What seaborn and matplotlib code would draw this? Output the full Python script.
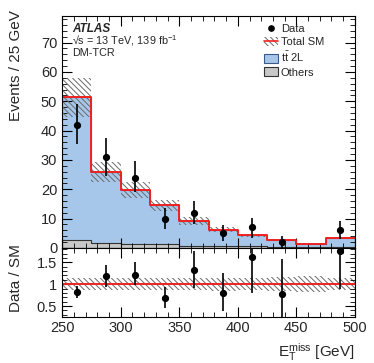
import numpy as np
import matplotlib
matplotlib.use("Agg")
import matplotlib.pyplot as plt
import seaborn as sns
import pandas as pd
from matplotlib.ticker import MultipleLocator
from matplotlib.patches import Patch
from matplotlib.lines import Line2D

# bins of E_T^miss [GeV]
edges = [250, 275, 300, 325, 350, 375, 400, 425, 450, 475, 500]
centers = np.array(edges[:-1]) + 12.5

data = np.array([42, 31, 24, 10, 12, 5, 7, 2, np.nan, 6])
err_up = np.array([7.0, 6.4, 5.8, 3.7, 4.1, 2.8, 3.3, 2.1, np.nan, 3.1])
err_dn = np.array([6.5, 6.6, 4.8, 3.4, 3.7, 2.6, 3.6, 1.9, np.nan, 3.0])

# backgrounds
ttbar = np.array([48.7, 24.3, 18.4, 13.2, 8.5, 5.6, 3.7, 2.3, 1.1, 3.1])
others = np.array([2.6, 1.7, 1.3, 1.3, 0.6, 0.6, 0.6, 0.3, 0.3, 0.3])
sm_unc = np.array([6.8, 3.4, 2.7, 2.0, 1.3, 0.9, 0.6, 0.4, 0.25, 0.45])

total = ttbar + others

sns.set_theme(style="ticks")
plt.rcParams["font.family"] = ["Liberation Sans", "DejaVu Sans"]
plt.rcParams["mathtext.fontset"] = "custom"
plt.rcParams["mathtext.rm"] = "Liberation Sans"
plt.rcParams["mathtext.it"] = "Liberation Sans:italic"
plt.rcParams["mathtext.bf"] = "Liberation Sans:bold"
plt.rcParams["hatch.linewidth"] = 0.7

blue = "#a6c7ea"
grey = "#c8c8c8"
hatch_col = "#6a6a6a"
hatch = "\\" * 6

fig = plt.figure(figsize=(3.74, 3.63), dpi=100)
ax = fig.add_axes([0.166, 0.317, 0.783, 0.640])
ax2 = fig.add_axes([0.166, 0.128, 0.783, 0.189], sharex=ax)

df = pd.DataFrame({"met": centers, "total": total, "others": others})

# stacked backgrounds: total (blue) then others drawn over it
sns.histplot(data=df, x="met", weights="total", bins=edges, element="step",
             fill=True, color=blue, alpha=1, edgecolor="#3a5a8a", linewidth=0.8, ax=ax)
sns.histplot(data=df, x="met", weights="others", bins=edges, element="step",
             fill=True, color=grey, alpha=1, edgecolor="#333333", linewidth=0.8, ax=ax)

# uncertainty band
ax.bar(centers, 2 * sm_unc, bottom=total - sm_unc, width=25, fill=False,
       hatch=hatch, edgecolor=hatch_col, linewidth=0, zorder=3)
# total SM line
sns.histplot(data=df, x="met", weights="total", bins=edges, element="step",
             fill=False, color="#ee2222", linewidth=1.4, ax=ax, zorder=4)

ax.errorbar(centers, data, yerr=[err_dn, err_up], fmt="o", color="black",
            ms=4.2, elinewidth=1.2, capsize=0, zorder=5)

ax.set_xlim(250, 500)
ax.set_ylim(0, 79.2)
ax.set_xlabel("")
ax.set_ylabel("Events / 25 GeV", fontsize=11)
ax.yaxis.set_label_coords(-0.135, 0.784)
ax.yaxis.label.set_va("bottom")
ax.yaxis.set_major_locator(MultipleLocator(10))
ax.yaxis.set_minor_locator(MultipleLocator(2))
ax.tick_params(labelbottom=False)

ax.text(0.034, 0.944, "ATLAS", transform=ax.transAxes, fontsize=8.5,
        fontweight="bold", fontstyle="italic", va="center")
ax.text(0.034, 0.892, "\u221as = 13 TeV, 139 fb$^{-1}$", transform=ax.transAxes,
        fontsize=7.8, va="center")
ax.text(0.034, 0.84, "DM-TCR", transform=ax.transAxes, fontsize=7.8, va="center")

handles = [
    Line2D([], [], marker="o", color="black", ls="none", ms=3.8),
    (Patch(facecolor="white", hatch=hatch, edgecolor=hatch_col, lw=0),
     Line2D([], [], color="#ee2222", lw=1.2)),
    Patch(facecolor=blue, edgecolor="#3a5a8a", lw=0.8),
    Patch(facecolor=grey, edgecolor="#333333", lw=0.8),
]
labels = ["Data", "Total SM", r"t$\bar{\mathrm{t}}$ 2L", "Others"]
ax.legend(handles, labels, loc="upper left", bbox_to_anchor=(0.69, 0.965),
          frameon=False, fontsize=8, handlelength=1.25, handleheight=0.9,
          labelspacing=0.25, handletextpad=0.25, borderaxespad=0, borderpad=0)

# ratio panel
ratio = data / total
r_up = err_up / total
r_dn = err_dn / total
band = sm_unc / total
ax2.bar(centers, 2 * band, bottom=1 - band, width=25, fill=False,
        hatch=hatch, edgecolor=hatch_col, linewidth=0, zorder=2)
ax2.axhline(1, color="#ee2222", lw=1.4, zorder=3)
ax2.errorbar(centers, ratio, yerr=[r_dn, r_up], fmt="o", color="black",
             ms=4.2, elinewidth=1.2, capsize=0, zorder=5, clip_on=True)
ax2.set_ylim(0.26, 1.83)
ax2.set_ylabel("Data / SM", fontsize=11)
ax2.yaxis.set_label_coords(-0.135, 0.56)
ax2.yaxis.label.set_va("bottom")
ax2.set_xlabel(r"$\mathrm{E}_{\mathrm{T}}^{\mathrm{miss}}$ [GeV]", fontsize=11, loc="right")
ax2.yaxis.set_minor_locator(MultipleLocator(0.1))
ax2.set_yticks([0.5, 1, 1.5])
ax2.set_yticklabels(["0.5", "1", "1.5"])
ax2.xaxis.set_major_locator(MultipleLocator(50))
ax2.xaxis.set_minor_locator(MultipleLocator(10))

for a in (ax, ax2):
    a.set_axisbelow(False)
    a.tick_params(which="both", direction="in", top=True, right=True,
                  labelsize=10.5, color="black")
    a.tick_params(which="major", length=7, width=0.8)
    a.tick_params(which="minor", length=3.5, width=0.6)
    for s in a.spines.values():
        s.set_linewidth(0.8)
        s.set_color("black")
        s.set_zorder(6)

fig.savefig("out.png", dpi=100)
